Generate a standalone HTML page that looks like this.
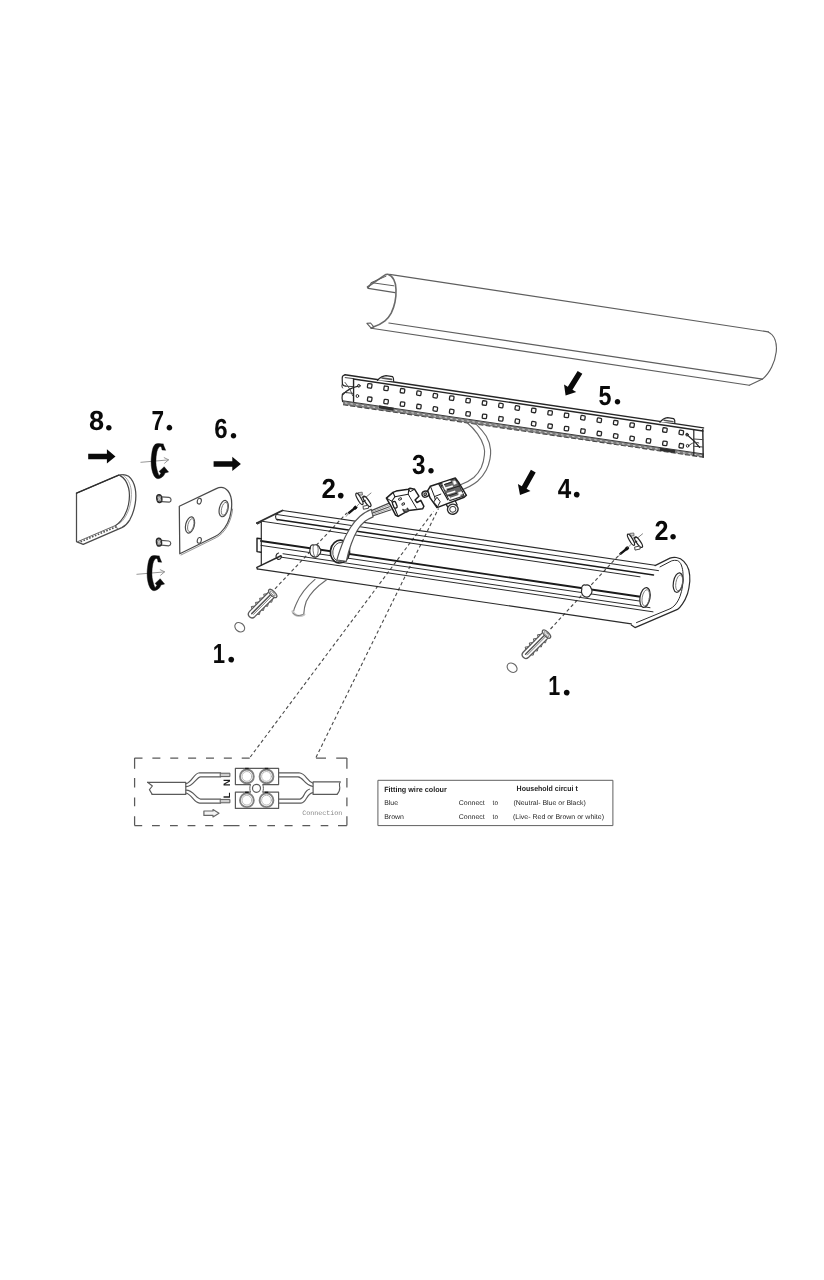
<!DOCTYPE html>
<html lang="en">
<head>
<meta charset="utf-8">
<title>Assembly diagram</title>
<style>
html,body{margin:0;padding:0;background:#fff;}
body{width:824px;height:1280px;overflow:hidden;font-family:"Liberation Sans",sans-serif;}
svg{display:block;position:absolute;left:0;top:0;will-change:transform;}
svg text{text-rendering:geometricPrecision;}
svg line, svg path, svg ellipse, svg polyline, svg rect, svg circle{stroke-linecap:round;stroke-linejoin:round;}
</style>
</head>
<body>
<svg width="824" height="1280" viewBox="0 0 824 1280">
<g id="diffuser">
<line x1="389.50" y1="274.40" x2="768.30" y2="331.90" stroke="#5e5e5e" stroke-width="1.15" />
<path d="M367.5 287 L384 275.6 C385.4 274.6 386.6 274.2 387.8 274.3 C390.4 275 392.4 277 393.8 279.6 C395.4 282.6 396 286 396 289.6 C396.2 294 395.8 298 395 302 C394.2 306 392.8 309.8 391.2 313.2 C389.6 316.2 387.6 318.8 385 320.8 C381.6 323.4 378 325.4 373.8 326.8 L371.2 328.2" stroke="#6a6a6a" stroke-width="1.6" fill="none" />
<path d="M367.5 287 L368.2 288.4 L395 292.6" stroke="#5e5e5e" stroke-width="1.1" fill="none" />
<path d="M368.2 288.4 L371.2 282.6 L393.8 285.8" stroke="#5e5e5e" stroke-width="1.0" fill="none" />
<path d="M371.2 282.6 L386 276.2" stroke="#5e5e5e" stroke-width="1.0" fill="none" />
<path d="M366.9 323.3 L371.2 328.2 M366.9 323.3 L370.6 323 L373.8 326.8" stroke="#5e5e5e" stroke-width="1.1" fill="none" />
<line x1="388.80" y1="323.00" x2="762.50" y2="379.10" stroke="#5e5e5e" stroke-width="1.15" />
<line x1="371.20" y1="328.30" x2="749.30" y2="385.20" stroke="#5e5e5e" stroke-width="1.15" />
<path d="M768.3 331.9 C774.6 335 777.2 343 776.2 352 C775 362 770 373 762.5 379.1 L749.3 385.2" stroke="#5e5e5e" stroke-width="1.15" fill="none" />
</g>
<g id="ledstrip">
<line x1="345.00" y1="374.80" x2="703.50" y2="427.88" stroke="#262626" stroke-width="1.5" />
<line x1="353.50" y1="379.00" x2="703.00" y2="431.01" stroke="#262626" stroke-width="1.3" />
<polygon points="343,401.0 703.5,454.18 703.5,457.28 343,404.8" fill="#7d7d7d"/>
<line x1="343.00" y1="400.80" x2="703.50" y2="453.98" stroke="#3a3a3a" stroke-width="1.0" />
<line x1="343.00" y1="404.80" x2="703.50" y2="457.28" stroke="#4a4a4a" stroke-width="1.1" stroke-dasharray="5 2.2" style="stroke-linecap:butt"/>
<line x1="345.00" y1="402.90" x2="702.00" y2="455.56" stroke="#d8d8d8" stroke-width="0.9" stroke-dasharray="2.4 3.2" style="stroke-linecap:butt"/>
<path d="M345 374.8 C343.2 375 342.2 376.4 342.2 378 L342.4 384 C343 385.6 344.6 386.2 346 386 M342.4 394 C342 396 342 399.6 342.6 401.6" stroke="#262626" stroke-width="1.2" fill="none" />
<path d="M342.4 384 C341.6 385.6 341.8 386.8 342.6 388 M342.6 393.6 C343.6 392.6 345 392.2 346.4 392.6" stroke="#262626" stroke-width="1.0" fill="none" />
<path d="M345.2 377.6 L353.4 378.6 L353.4 386.6 L345.6 386.2 M346.4 392.6 L353.4 393.4 L353.4 401.2" stroke="#444" stroke-width="1.0" fill="none" />
<line x1="353.60" y1="378.80" x2="353.60" y2="401.40" stroke="#262626" stroke-width="1.3" />
<path d="M342.8 394.6 C345.4 391.6 350 388 358.2 386.2" stroke="#262626" stroke-width="1.3" fill="none" />
<path d="M345 382.4 C348 386 351 390.6 352.6 395.6" stroke="#444" stroke-width="0.9" fill="none" />
<ellipse cx="358.80" cy="385.80" rx="1.3" ry="1.4" transform="rotate(0 358.80 385.80)" stroke="#262626" stroke-width="1.0" fill="none"/>
<ellipse cx="357.40" cy="396.00" rx="1.3" ry="1.5" transform="rotate(0 357.40 396.00)" stroke="#262626" stroke-width="1.0" fill="none"/>
<line x1="693.80" y1="429.80" x2="693.80" y2="455.40" stroke="#262626" stroke-width="1.2" />
<line x1="702.80" y1="429.40" x2="703.20" y2="457.20" stroke="#262626" stroke-width="1.4" />
<path d="M693.8 439 L702.8 439.6 M693.8 446.2 L702.8 447" stroke="#444" stroke-width="1.0" fill="none" />
<path d="M686.6 434.6 C690 437.4 694.6 440.6 699.6 447.4" stroke="#262626" stroke-width="1.3" fill="none" />
<path d="M688.6 445.8 C692 442.6 696 441.6 698.8 443" stroke="#444" stroke-width="1.0" fill="none" />
<ellipse cx="687.00" cy="434.60" rx="1.3" ry="1.4" transform="rotate(0 687.00 434.60)" stroke="#262626" stroke-width="1.0" fill="none"/>
<ellipse cx="687.60" cy="445.80" rx="1.3" ry="1.4" transform="rotate(0 687.60 445.80)" stroke="#262626" stroke-width="1.0" fill="none"/>
<path d="M377.5 380.2 C380 377.6 383 375.8 386 375.6 L392.6 376.6 C393.6 377.6 393.8 379.4 393.6 381.2" stroke="#262626" stroke-width="1.3" fill="#fff" />
<path d="M382 378 L391.6 379.4" stroke="#555" stroke-width="1.6" fill="none" />
<path d="M660 422.2 C662 419.6 664.6 418 667.6 417.6 L673.6 418.6 C674.8 419.6 675 421 674.8 422.6" stroke="#262626" stroke-width="1.3" fill="#fff" />
<path d="M664 420.2 L673 421.6" stroke="#555" stroke-width="1.4" fill="none" />
<path d="M379 406.8 L393.6 409.2" stroke="#2e2e2e" stroke-width="3.0" fill="none" style="stroke-linecap:butt"/>
<path d="M660 449.2 L675 451.6" stroke="#2e2e2e" stroke-width="3.0" fill="none" style="stroke-linecap:butt"/>
<rect x="367.55" y="383.75" width="4.3" height="4.3" rx="0.9" transform="rotate(8.5 369.70 385.90)" fill="#fff" stroke="#262626" stroke-width="1.3"/>
<rect x="383.95" y="386.20" width="4.3" height="4.3" rx="0.9" transform="rotate(8.5 386.10 388.35)" fill="#fff" stroke="#262626" stroke-width="1.3"/>
<rect x="400.35" y="388.66" width="4.3" height="4.3" rx="0.9" transform="rotate(8.5 402.50 390.81)" fill="#fff" stroke="#262626" stroke-width="1.3"/>
<rect x="416.75" y="391.11" width="4.3" height="4.3" rx="0.9" transform="rotate(8.5 418.90 393.26)" fill="#fff" stroke="#262626" stroke-width="1.3"/>
<rect x="433.15" y="393.56" width="4.3" height="4.3" rx="0.9" transform="rotate(8.5 435.30 395.71)" fill="#fff" stroke="#262626" stroke-width="1.3"/>
<rect x="449.55" y="396.02" width="4.3" height="4.3" rx="0.9" transform="rotate(8.5 451.70 398.17)" fill="#fff" stroke="#262626" stroke-width="1.3"/>
<rect x="465.95" y="398.47" width="4.3" height="4.3" rx="0.9" transform="rotate(8.5 468.10 400.62)" fill="#fff" stroke="#262626" stroke-width="1.3"/>
<rect x="482.35" y="400.92" width="4.3" height="4.3" rx="0.9" transform="rotate(8.5 484.50 403.07)" fill="#fff" stroke="#262626" stroke-width="1.3"/>
<rect x="498.75" y="403.38" width="4.3" height="4.3" rx="0.9" transform="rotate(8.5 500.90 405.53)" fill="#fff" stroke="#262626" stroke-width="1.3"/>
<rect x="515.15" y="405.83" width="4.3" height="4.3" rx="0.9" transform="rotate(8.5 517.30 407.98)" fill="#fff" stroke="#262626" stroke-width="1.3"/>
<rect x="531.55" y="408.28" width="4.3" height="4.3" rx="0.9" transform="rotate(8.5 533.70 410.43)" fill="#fff" stroke="#262626" stroke-width="1.3"/>
<rect x="547.95" y="410.74" width="4.3" height="4.3" rx="0.9" transform="rotate(8.5 550.10 412.89)" fill="#fff" stroke="#262626" stroke-width="1.3"/>
<rect x="564.35" y="413.19" width="4.3" height="4.3" rx="0.9" transform="rotate(8.5 566.50 415.34)" fill="#fff" stroke="#262626" stroke-width="1.3"/>
<rect x="580.75" y="415.64" width="4.3" height="4.3" rx="0.9" transform="rotate(8.5 582.90 417.79)" fill="#fff" stroke="#262626" stroke-width="1.3"/>
<rect x="597.15" y="418.10" width="4.3" height="4.3" rx="0.9" transform="rotate(8.5 599.30 420.25)" fill="#fff" stroke="#262626" stroke-width="1.3"/>
<rect x="613.55" y="420.55" width="4.3" height="4.3" rx="0.9" transform="rotate(8.5 615.70 422.70)" fill="#fff" stroke="#262626" stroke-width="1.3"/>
<rect x="629.95" y="423.01" width="4.3" height="4.3" rx="0.9" transform="rotate(8.5 632.10 425.16)" fill="#fff" stroke="#262626" stroke-width="1.3"/>
<rect x="646.35" y="425.46" width="4.3" height="4.3" rx="0.9" transform="rotate(8.5 648.50 427.61)" fill="#fff" stroke="#262626" stroke-width="1.3"/>
<rect x="662.75" y="427.91" width="4.3" height="4.3" rx="0.9" transform="rotate(8.5 664.90 430.06)" fill="#fff" stroke="#262626" stroke-width="1.3"/>
<rect x="679.15" y="430.37" width="4.3" height="4.3" rx="0.9" transform="rotate(8.5 681.30 432.52)" fill="#fff" stroke="#262626" stroke-width="1.3"/>
<rect x="367.55" y="397.05" width="4.3" height="4.3" rx="0.9" transform="rotate(8.5 369.70 399.20)" fill="#fff" stroke="#262626" stroke-width="1.3"/>
<rect x="383.95" y="399.50" width="4.3" height="4.3" rx="0.9" transform="rotate(8.5 386.10 401.65)" fill="#fff" stroke="#262626" stroke-width="1.3"/>
<rect x="400.35" y="401.96" width="4.3" height="4.3" rx="0.9" transform="rotate(8.5 402.50 404.11)" fill="#fff" stroke="#262626" stroke-width="1.3"/>
<rect x="416.75" y="404.41" width="4.3" height="4.3" rx="0.9" transform="rotate(8.5 418.90 406.56)" fill="#fff" stroke="#262626" stroke-width="1.3"/>
<rect x="433.15" y="406.86" width="4.3" height="4.3" rx="0.9" transform="rotate(8.5 435.30 409.01)" fill="#fff" stroke="#262626" stroke-width="1.3"/>
<rect x="449.55" y="409.32" width="4.3" height="4.3" rx="0.9" transform="rotate(8.5 451.70 411.47)" fill="#fff" stroke="#262626" stroke-width="1.3"/>
<rect x="465.95" y="411.77" width="4.3" height="4.3" rx="0.9" transform="rotate(8.5 468.10 413.92)" fill="#fff" stroke="#262626" stroke-width="1.3"/>
<rect x="482.35" y="414.22" width="4.3" height="4.3" rx="0.9" transform="rotate(8.5 484.50 416.37)" fill="#fff" stroke="#262626" stroke-width="1.3"/>
<rect x="498.75" y="416.68" width="4.3" height="4.3" rx="0.9" transform="rotate(8.5 500.90 418.83)" fill="#fff" stroke="#262626" stroke-width="1.3"/>
<rect x="515.15" y="419.13" width="4.3" height="4.3" rx="0.9" transform="rotate(8.5 517.30 421.28)" fill="#fff" stroke="#262626" stroke-width="1.3"/>
<rect x="531.55" y="421.58" width="4.3" height="4.3" rx="0.9" transform="rotate(8.5 533.70 423.73)" fill="#fff" stroke="#262626" stroke-width="1.3"/>
<rect x="547.95" y="424.04" width="4.3" height="4.3" rx="0.9" transform="rotate(8.5 550.10 426.19)" fill="#fff" stroke="#262626" stroke-width="1.3"/>
<rect x="564.35" y="426.49" width="4.3" height="4.3" rx="0.9" transform="rotate(8.5 566.50 428.64)" fill="#fff" stroke="#262626" stroke-width="1.3"/>
<rect x="580.75" y="428.94" width="4.3" height="4.3" rx="0.9" transform="rotate(8.5 582.90 431.09)" fill="#fff" stroke="#262626" stroke-width="1.3"/>
<rect x="597.15" y="431.40" width="4.3" height="4.3" rx="0.9" transform="rotate(8.5 599.30 433.55)" fill="#fff" stroke="#262626" stroke-width="1.3"/>
<rect x="613.55" y="433.85" width="4.3" height="4.3" rx="0.9" transform="rotate(8.5 615.70 436.00)" fill="#fff" stroke="#262626" stroke-width="1.3"/>
<rect x="629.95" y="436.31" width="4.3" height="4.3" rx="0.9" transform="rotate(8.5 632.10 438.46)" fill="#fff" stroke="#262626" stroke-width="1.3"/>
<rect x="646.35" y="438.76" width="4.3" height="4.3" rx="0.9" transform="rotate(8.5 648.50 440.91)" fill="#fff" stroke="#262626" stroke-width="1.3"/>
<rect x="662.75" y="441.21" width="4.3" height="4.3" rx="0.9" transform="rotate(8.5 664.90 443.36)" fill="#fff" stroke="#262626" stroke-width="1.3"/>
<rect x="679.15" y="443.67" width="4.3" height="4.3" rx="0.9" transform="rotate(8.5 681.30 445.82)" fill="#fff" stroke="#262626" stroke-width="1.3"/>
</g>
<g id="cable1">
<path d="M466.9 422.5 C471 426 474.6 429.8 477.5 433.8 C480.6 438 482.6 442 483.8 446.3 C484.6 449.2 484.8 452 484.4 455 C484 459.4 483 463.6 481.3 467.5 C479.4 471.4 477 474.6 473.8 477.5 C470 480.6 465.6 483 460 485" stroke="#6a6a6a" stroke-width="1.15" fill="none" />
<path d="M476.3 424.4 C480 428 483.6 432 486.3 436.3 C488.8 440.6 490.2 445.2 490.6 450 C490.8 453 490.6 455.8 490 458.8 C489.2 462.8 488 466.6 486.3 470 C484 474.4 481.2 478 477.5 481.3 C473 485 467.6 487.8 461.3 490" stroke="#6a6a6a" stroke-width="1.15" fill="none" />
</g>
<g id="dashes">
<line x1="275.00" y1="588.80" x2="347.00" y2="512.80" stroke="#4a4a4a" stroke-width="1.15" stroke-dasharray="3.4 2.6" style="stroke-linecap:butt"/>
<line x1="550.50" y1="629.00" x2="621.40" y2="552.40" stroke="#4a4a4a" stroke-width="1.15" stroke-dasharray="3.4 2.6" style="stroke-linecap:butt"/>
<line x1="250.30" y1="757.00" x2="433.50" y2="511.50" stroke="#4a4a4a" stroke-width="1.1" stroke-dasharray="3.4 2.6" style="stroke-linecap:butt"/>
<line x1="316.00" y1="757.40" x2="438.50" y2="508.50" stroke="#4a4a4a" stroke-width="1.1" stroke-dasharray="3.4 2.6" style="stroke-linecap:butt"/>
</g>
<g id="housing">
<line x1="282.50" y1="510.46" x2="655.00" y2="565.22" stroke="#2b2b2b" stroke-width="1.1" />
<line x1="277.00" y1="514.55" x2="658.50" y2="570.63" stroke="#2b2b2b" stroke-width="1.0" />
<line x1="277.00" y1="519.55" x2="653.50" y2="574.90" stroke="#1a1a1a" stroke-width="1.5" />
<line x1="261.30" y1="521.15" x2="640.00" y2="576.82" stroke="#2b2b2b" stroke-width="1.0" />
<line x1="261.00" y1="541.00" x2="640.50" y2="596.79" stroke="#1a1a1a" stroke-width="1.9" />
<line x1="261.00" y1="545.40" x2="640.50" y2="601.19" stroke="#2b2b2b" stroke-width="1.0" />
<line x1="283.00" y1="553.74" x2="650.00" y2="607.68" stroke="#2b2b2b" stroke-width="1.0" />
<line x1="281.00" y1="557.14" x2="653.00" y2="611.83" stroke="#2b2b2b" stroke-width="1.0" />
<line x1="256.90" y1="568.80" x2="631.30" y2="623.84" stroke="#2b2b2b" stroke-width="1.2" />
<path d="M257 523 L282.5 510.5" stroke="#2f2f2f" stroke-width="1.9" fill="none" />
<path d="M256.9 522.6 L257.4 524.2 L261.3 522" stroke="#2b2b2b" stroke-width="1" fill="none" />
<path d="M261.3 522 L261.3 565.4" stroke="#2b2b2b" stroke-width="1.2" fill="none" />
<path d="M257 538.2 L261 538.8 M257 538.2 L257 551.6 L261 552.2" stroke="#1f1f1f" stroke-width="1.4" fill="none" />
<path d="M256.9 567.4 L281 555.8" stroke="#2a2a2a" stroke-width="1.5" fill="none" />
<path d="M256.9 567.6 L257.6 569.2" stroke="#2b2b2b" stroke-width="1" fill="none" />
<path d="M277.5 513.4 C275 514.6 274.8 518.6 277.4 520" stroke="#2b2b2b" stroke-width="1.1" fill="none" />
<path d="M278.5 553 C275.5 554 275 558 278 559.4 C280 559.8 281.5 558 281.5 556.6" stroke="#2b2b2b" stroke-width="1.2" fill="none" />
<ellipse cx="340.00" cy="551.60" rx="9.6" ry="11.4" transform="rotate(8 340.00 551.60)" stroke="#222" stroke-width="1.7" fill="#fff"/>
<ellipse cx="340.40" cy="552.00" rx="7.6" ry="9.6" transform="rotate(8 340.40 552.00)" stroke="#444" stroke-width="0.9" fill="none"/>
<path d="M310.3 548.2 C310 545.6 311.8 544.4 314 545 C316.6 544.2 319 545.6 319.6 548 C321.4 549.6 321.2 553.4 319 554.8 C317.8 557.6 314 557.8 312.2 556 C309.8 554.8 309.2 550.6 310.3 548.2 Z" stroke="#2b2b2b" stroke-width="1.2" fill="#fff" />
<path d="M313.4 545.2 C312.6 548.6 313 553 314.6 556.6 M317.6 546 C318.6 549 318.4 552.6 317 555.4" stroke="#555" stroke-width="0.8" fill="none" />
<g transform="translate(-6.4 -0.9)">
<path d="M588.2 590.2 C587.5 587.2 589.5 585.4 592 586 C594.5 585.2 597 586.6 597.5 589.2 C599 591 598.6 594.4 596.6 595.8 C595.4 598.4 591.8 598.6 590 596.8 C588 595.6 587.4 592.4 588.2 590.2 Z" stroke="#2b2b2b" stroke-width="1.2" fill="#fff" />
</g>
<ellipse cx="645.00" cy="597.50" rx="5.0" ry="10" transform="rotate(10 645.00 597.50)" stroke="#2b2b2b" stroke-width="1.2" fill="#fff"/>
<ellipse cx="645.80" cy="597.80" rx="3.6" ry="8.2" transform="rotate(10 645.80 597.80)" stroke="#666" stroke-width="0.8" fill="none"/>
<path d="M655 565.6 L670 558.1 C672.5 557.2 674.5 557.2 676.3 557.5 C679.5 558 682 559.4 683.8 561.3 C686.6 564.2 688 567 688.8 570 C689.8 574 690 577.5 689.8 581.3 C689.4 586 688.6 590 687.5 593.8 C686.2 597.6 684.6 601 682.5 603.8 C681 606 679.4 608 677.5 609.4 L635 627.6 L631.3 625" stroke="#2b2b2b" stroke-width="1.2" fill="none" />
<path d="M660 566.9 L671.3 561 C673.5 560.2 675.5 560.2 677.5 560.6 C679.4 561.6 680.6 563 681.3 565 C682.4 568 682.9 570.6 683 573.8 C683.2 578 683 582 682.5 586.3 C682 590 681.2 593 680 596.3 C678.8 599.6 677.2 602.4 675 605 C673.6 606.6 672 607.8 670 608.8 L636.5 622.6" stroke="#2b2b2b" stroke-width="1.0" fill="none" />
<ellipse cx="678.10" cy="582.60" rx="4.7" ry="9.8" transform="rotate(10 678.10 582.60)" stroke="#2b2b2b" stroke-width="1.2" fill="#fff"/>
<ellipse cx="679.20" cy="582.90" rx="3.3" ry="8.0" transform="rotate(10 679.20 582.90)" stroke="#666" stroke-width="0.8" fill="none"/>
</g>
<g id="cable2">
<path d="M371.3 509.4 C366 511.6 362.5 514 360 516.3 C356 520 353.5 523 351.3 526.3 C348 531.5 345.5 536 343.8 540 C341 547 338.6 553.6 336.9 560 L346.3 561.3 C347.6 555 349.2 549.4 351.3 543.8 C353 539 355 534.4 357.5 530 C359.8 526.4 362.2 523.6 365 521.3 C367.6 519.4 370.4 518 373.1 516.9 Z" stroke="#555" stroke-width="1.2" fill="#fff" />
<path d="M315 579.4 C306 587 299.5 596 296.3 603.8 C294.6 607.4 293.6 610.4 293.1 613.1" stroke="#6a6a6a" stroke-width="1.15" fill="none" />
<path d="M326.3 580 C317 586.4 310 593.6 306.3 601.3 C304.8 605.4 304 609.6 303.8 613.8" stroke="#6a6a6a" stroke-width="1.15" fill="none" />
<path d="M292.6 611.4 C294 615.6 299.6 617.4 304.2 614.4" stroke="#c4c4c4" stroke-width="2.4" fill="none" />
<path d="M293.1 613.1 C295 616 300 616.6 303.8 613.8" stroke="#777" stroke-width="0.9" fill="none" />
</g>
<g id="connectors">
<path d="M372 510.4 L388.6 503.4 M372.6 513 L389.4 506.8 M373.2 515.8 L391 509.8" stroke="#4a4a4a" stroke-width="1.2" fill="none" />
<path d="M372.4 511.8 L388.8 505 M373 514.4 L390 508.4" stroke="#9a9a9a" stroke-width="0.9" fill="none" />
<path d="M386.4 498.1 L393.0 492.4 L396.2 491.1 L408.2 489.2 L410.1 488.3 L414.5 489.2 L418.9 496.2 L415.1 500.0 L417.0 502.5 L420.8 500.3 L423.9 506.3 L422.7 508.8 L408.8 510.4 L398.1 516.4 L395.6 515.1 L391.1 506.3 Z" stroke="#1f1f1f" stroke-width="1.5" fill="#fff" />
<path d="M393.0 492.4 L394.9 496.8 L408.2 494.3 L408.8 489.6" stroke="#1f1f1f" stroke-width="1.1" fill="none" />
<path d="M408.2 494.3 L416.4 508.2" stroke="#1f1f1f" stroke-width="1.0" fill="none" />
<path d="M394.9 496.8 L391.8 501.2 L398.1 516.4" stroke="#1f1f1f" stroke-width="1.1" fill="none" />
<path d="M386.4 498.1 L391.8 501.2" stroke="#1f1f1f" stroke-width="1.0" fill="none" />
<path d="M414.5 489.2 L410.1 491.8 L408.8 489.6" stroke="#1f1f1f" stroke-width="1.0" fill="none" />
<rect x="-1.7" y="-3.4" width="3.4" height="6.8" rx="1.5" transform="translate(394.8 504.8) rotate(-22)" fill="#fff" stroke="#1f1f1f" stroke-width="1.3"/>
<ellipse cx="400.00" cy="499.00" rx="1.6" ry="1.0" transform="rotate(-25 400.00 499.00)" stroke="#1f1f1f" stroke-width="0.9" fill="none"/>
<ellipse cx="403.20" cy="504.00" rx="1.4" ry="1.0" transform="rotate(-25 403.20 504.00)" stroke="#1f1f1f" stroke-width="1.0" fill="none"/>
<path d="M403 509.4 C404 512.6 407 512.8 408.6 510.6 L407.4 508.4" stroke="#333" stroke-width="1.5" fill="#777" />
<path d="M430.4 486.2 L455.3 478.0 L458.5 482.1 L466.4 495.3 L464.2 497.2 L437.0 507.6 L430.1 497.9 L427.6 490.9 Z" stroke="#1f1f1f" stroke-width="1.5" fill="#fff" />
<path d="M440.2 483.7 L454.7 478.6 L457.9 482.4 L464.2 496.0 L449.7 500.7 L445.2 492.8 Z" stroke="#1f1f1f" stroke-width="0.9" fill="#676767" />
<path d="M444.6 488.5 L452.8 486 M447.1 493.8 L455.3 491.2 M450.6 498.6 L460.4 495.4 M442.6 483.6 L450.6 481" stroke="#fff" stroke-width="1.7" fill="none" style="stroke-linecap:butt"/>
<path d="M441.2 485.6 L457 480.4 M444 491 L460 485.8 M447 496.4 L463 491.2" stroke="#1f1f1f" stroke-width="1.0" fill="none" style="stroke-linecap:butt"/>
<path d="M452.9 481.4 L455.2 480.7 L456.4 483.6 L454.2 484.4 Z M458 492.6 L461.4 491.4 L462.6 493.8 L459.2 495 Z" stroke="#fff" stroke-width="0.5" fill="#fff" />
<path d="M443 484 L446.4 490.6 M448.4 496.4 L450.4 499.6 M441.8 488 L444 492.4" stroke="#fff" stroke-width="1.4" fill="none" style="stroke-linecap:butt"/>
<path d="M438.9 484.3 L447.8 499.8" stroke="#1f1f1f" stroke-width="1.3" fill="none" />
<path d="M430.4 486.2 L434.5 496.6 L437.0 507.6" stroke="#1f1f1f" stroke-width="1.0" fill="none" />
<path d="M434.5 496.6 L440.8 494.1" stroke="#1f1f1f" stroke-width="1.0" fill="none" />
<path d="M433.9 501.7 L437.0 497.2 L440.2 501.7 L437.7 506.4 Z" stroke="#1f1f1f" stroke-width="1.0" fill="#fff" />
<ellipse cx="425.40" cy="494.10" rx="3.4" ry="3.0" transform="rotate(-20 425.40 494.10)" stroke="#1f1f1f" stroke-width="1.4" fill="#fff"/>
<ellipse cx="425.30" cy="494.20" rx="1.5" ry="1.3" transform="rotate(-20 425.30 494.20)" stroke="#333" stroke-width="1.0" fill="#999"/>
<path d="M446.4 504.6 L448 507.6 M455.6 501.4 L457.2 505" stroke="#1f1f1f" stroke-width="1.2" fill="none" />
<ellipse cx="452.80" cy="509.20" rx="5.3" ry="5.0" transform="rotate(-15 452.80 509.20)" stroke="#2a2a2a" stroke-width="1.4" fill="#fff"/>
<ellipse cx="452.80" cy="509.30" rx="3.0" ry="2.8" transform="rotate(-15 452.80 509.30)" stroke="#444" stroke-width="1.0" fill="none"/>
</g>
<g id="clips">
<line x1="365.40" y1="497.60" x2="371.00" y2="493.00" stroke="#777" stroke-width="0.9" />
<path d="M358.4 492.6 L362.2 492.2 L362.4 495.0 L359.4 495.2 Z" stroke="#666" stroke-width="0.9" fill="#ccc" />
<ellipse cx="359.40" cy="498.90" rx="1.7" ry="6.4" transform="rotate(-30 359.40 498.90)" stroke="#262626" stroke-width="1.3" fill="#fff"/>
<ellipse cx="367.00" cy="501.40" rx="1.9" ry="6.2" transform="rotate(-35 367.00 501.40)" stroke="#262626" stroke-width="1.3" fill="#fff"/>
<path d="M362.0 497.2 L365.0 496.6 M363.4 501.4 L365.2 500.4" stroke="#262626" stroke-width="1.1" fill="none" />
<path d="M363.4 506.2 L368.2 505.2 L368.6 508.2 L363.8 509.2 Z" stroke="#444" stroke-width="1.0" fill="#fff" />
<path d="M348.8 513.0 L356.0 507.2" stroke="#111" stroke-width="2.3" fill="none" style="stroke-linecap:round"/>
<ellipse cx="355.40" cy="507.60" rx="1.7" ry="1.5" transform="rotate(-40 355.40 507.60)" stroke="#111" stroke-width="0.8" fill="#111"/>
<path d="M346.2 516.4 L348.8 513.0 M356.4 506.6 L359.4 503.6" stroke="#8a8a8a" stroke-width="0.9" fill="none" />
<line x1="637.00" y1="538.40" x2="642.60" y2="533.80" stroke="#777" stroke-width="0.9" />
<path d="M630.0 533.4 L633.8 533.0 L634.0 535.8 L631.0 536.0 Z" stroke="#666" stroke-width="0.9" fill="#ccc" />
<ellipse cx="631.00" cy="539.70" rx="1.7" ry="6.4" transform="rotate(-30 631.00 539.70)" stroke="#262626" stroke-width="1.3" fill="#fff"/>
<ellipse cx="638.60" cy="542.20" rx="1.9" ry="6.2" transform="rotate(-35 638.60 542.20)" stroke="#262626" stroke-width="1.3" fill="#fff"/>
<path d="M633.6 538.0 L636.6 537.4 M635.0 542.2 L636.8 541.2" stroke="#262626" stroke-width="1.1" fill="none" />
<path d="M635.0 547.0 L639.8 546.0 L640.2 549.0 L635.4 550.0 Z" stroke="#444" stroke-width="1.0" fill="#fff" />
<path d="M620.4 553.8 L627.6 548.0" stroke="#111" stroke-width="2.3" fill="none" style="stroke-linecap:round"/>
<ellipse cx="627.00" cy="548.40" rx="1.7" ry="1.5" transform="rotate(-40 627.00 548.40)" stroke="#111" stroke-width="0.8" fill="#111"/>
<path d="M617.8 557.2 L620.4 553.8 M628.0 547.4 L631.0 544.4" stroke="#8a8a8a" stroke-width="0.9" fill="none" />
</g>
<g id="plugs">
<path d="M268.94 591.74 L249.55 611.41 C246.09 615.15 251.05 620.11 254.79 616.65 L274.46 597.26" stroke="#5a5a5a" stroke-width="1.3" fill="#fff" />
<path d="M251.75 613.61 L270.76 594.59" stroke="#555" stroke-width="1.5" fill="none" />
<path d="M253.53 614.36 L272.04 595.86" stroke="#777" stroke-width="0.9" fill="none" />
<path d="M254.55 606.13 L251.34 606.52 L251.98 608.70" stroke="#5a5a5a" stroke-width="1.0" fill="none" />
<path d="M260.07 611.65 L259.40 614.58 L257.50 614.22" stroke="#5a5a5a" stroke-width="1.0" fill="none" />
<path d="M258.66 602.02 L255.45 602.41 L256.09 604.59" stroke="#5a5a5a" stroke-width="1.0" fill="none" />
<path d="M264.18 607.54 L263.51 610.47 L261.61 610.11" stroke="#5a5a5a" stroke-width="1.0" fill="none" />
<path d="M262.78 597.91 L259.56 598.29 L260.21 600.48" stroke="#5a5a5a" stroke-width="1.0" fill="none" />
<path d="M268.29 603.42 L267.62 606.35 L265.72 605.99" stroke="#5a5a5a" stroke-width="1.0" fill="none" />
<path d="M266.89 593.80 L263.68 594.18 L264.32 596.37" stroke="#5a5a5a" stroke-width="1.0" fill="none" />
<path d="M272.40 599.31 L271.74 602.24 L269.83 601.88" stroke="#5a5a5a" stroke-width="1.0" fill="none" />
<ellipse cx="272.73" cy="593.47" rx="2.3" ry="5.3" transform="rotate(-45.00000000000003 272.73 593.47)" stroke="#5a5a5a" stroke-width="1.3" fill="#fff"/>
<ellipse cx="272.73" cy="593.47" rx="1.0" ry="3.4" transform="rotate(-45.00000000000003 272.73 593.47)" stroke="#777" stroke-width="0.8" fill="none"/>
<ellipse cx="239.75" cy="627.25" rx="4.2" ry="5.4" transform="rotate(-50 239.75 627.25)" stroke="#666" stroke-width="1.1" fill="none"/>
<path d="M542.74 632.34 L523.35 652.01 C519.89 655.75 524.85 660.71 528.59 657.25 L548.26 637.86" stroke="#5a5a5a" stroke-width="1.3" fill="#fff" />
<path d="M525.55 654.21 L544.56 635.19" stroke="#555" stroke-width="1.5" fill="none" />
<path d="M527.33 654.96 L545.84 636.46" stroke="#777" stroke-width="0.9" fill="none" />
<path d="M528.35 646.73 L525.14 647.12 L525.78 649.30" stroke="#5a5a5a" stroke-width="1.0" fill="none" />
<path d="M533.87 652.25 L533.20 655.18 L531.30 654.82" stroke="#5a5a5a" stroke-width="1.0" fill="none" />
<path d="M532.46 642.62 L529.25 643.01 L529.89 645.19" stroke="#5a5a5a" stroke-width="1.0" fill="none" />
<path d="M537.98 648.14 L537.31 651.07 L535.41 650.71" stroke="#5a5a5a" stroke-width="1.0" fill="none" />
<path d="M536.58 638.51 L533.36 638.89 L534.01 641.08" stroke="#5a5a5a" stroke-width="1.0" fill="none" />
<path d="M542.09 644.02 L541.42 646.95 L539.52 646.59" stroke="#5a5a5a" stroke-width="1.0" fill="none" />
<path d="M540.69 634.40 L537.48 634.78 L538.12 636.97" stroke="#5a5a5a" stroke-width="1.0" fill="none" />
<path d="M546.20 639.91 L545.54 642.84 L543.63 642.48" stroke="#5a5a5a" stroke-width="1.0" fill="none" />
<ellipse cx="546.53" cy="634.07" rx="2.3" ry="5.3" transform="rotate(-45.0 546.53 634.07)" stroke="#5a5a5a" stroke-width="1.3" fill="#fff"/>
<ellipse cx="546.53" cy="634.07" rx="1.0" ry="3.4" transform="rotate(-45.0 546.53 634.07)" stroke="#777" stroke-width="0.8" fill="none"/>
<ellipse cx="512.10" cy="667.70" rx="4.2" ry="5.4" transform="rotate(-50 512.10 667.70)" stroke="#666" stroke-width="1.1" fill="none"/>
</g>
<g id="cover">
<path d="M76.5 493.2 L118.6 475.2 C122 474.2 126 474.6 128.6 476.2 C132 479 134.2 483.4 135.2 488.6 C136.2 493.6 136 498.6 135.2 503.6 C134.2 509.6 132.4 515.2 129.8 519.8 C127.6 523.4 125 526 121.8 527.6 L83.2 544.4 L77.6 542.2 L76.5 541.6 Z" stroke="#4a4a4a" stroke-width="1.25" fill="#fff" />
<path d="M76.5 493.2 L118.6 475.2" stroke="#2e2e2e" stroke-width="1.3" fill="none" />
<path d="M119.8 475.4 C124 477.6 127 482 128.6 488 C129.8 493 129.6 498.6 128.6 504 C127.4 510 125 516 121 520.6 C119.4 522.6 117.6 524.2 115.6 525.4" stroke="#444" stroke-width="1.2" fill="none" />
<path d="M123 475.2 C127.6 478.2 130.4 483.6 131.2 490 C131.8 496 131 502 129.4 507.6 C127.6 513.6 124.6 519.4 119.6 523.6" stroke="#999" stroke-width="0.9" fill="none" />
<path d="M77.8 541.6 L115.6 525.4 L117.6 529.2" stroke="#555" stroke-width="0.9" fill="none" />
<path d="M80.6 541.8 L116 526.8" stroke="#555" stroke-width="1.7" fill="none" stroke-dasharray="1.6 1.5" style="stroke-linecap:butt"/>
</g>
<g id="plate">
<path d="M179.3 506.3 L216.3 488.6 C220.5 486.6 225 487.4 228 491 C231.4 495.2 232.2 502 231.4 509 C230.4 518 226.5 527 220.6 532.6 C219 534.2 217.5 535.2 215.5 536.2 L179.8 553.8 Z" stroke="#4a4a4a" stroke-width="1.25" fill="#fff" />
<path d="M181 555 L216.6 537.4 C225 533 231.6 521 232.6 509" stroke="#777" stroke-width="0.8" fill="none" />
<ellipse cx="190.00" cy="525.00" rx="4.3" ry="8.3" transform="rotate(14 190.00 525.00)" stroke="#4a4a4a" stroke-width="1.2" fill="none"/>
<ellipse cx="190.80" cy="525.20" rx="2.9" ry="6.6" transform="rotate(14 190.80 525.20)" stroke="#777" stroke-width="0.9" fill="none"/>
<ellipse cx="223.70" cy="508.60" rx="4.3" ry="8.3" transform="rotate(14 223.70 508.60)" stroke="#4a4a4a" stroke-width="1.2" fill="none"/>
<ellipse cx="224.50" cy="508.80" rx="2.9" ry="6.6" transform="rotate(14 224.50 508.80)" stroke="#777" stroke-width="0.9" fill="none"/>
<ellipse cx="199.30" cy="501.20" rx="2.0" ry="2.9" transform="rotate(14 199.30 501.20)" stroke="#4a4a4a" stroke-width="1.1" fill="none"/>
<ellipse cx="199.30" cy="540.40" rx="2.0" ry="2.9" transform="rotate(14 199.30 540.40)" stroke="#4a4a4a" stroke-width="1.1" fill="none"/>
</g>
<g id="screws">
<path d="M161.6 496.8 L169.0 497.4 C171.6 498.0 171.8 501.4 169.2 502.2 L161.6 501.6" stroke="#555" stroke-width="1.2" fill="#fff" />
<ellipse cx="159.30" cy="498.60" rx="2.5" ry="3.9" transform="rotate(-8 159.30 498.60)" stroke="#2a2a2a" stroke-width="1.5" fill="#8f8f8f"/>
<path d="M158.0 497.2 L160.6 500.2 M160.4 496.8 L158.2 500.4" stroke="#ddd" stroke-width="0.8" fill="none" />
<path d="M161.3 540.4 L168.7 541.0 C171.3 541.6 171.5 545.0 168.9 545.8 L161.3 545.2" stroke="#555" stroke-width="1.2" fill="#fff" />
<ellipse cx="159.00" cy="542.20" rx="2.5" ry="3.9" transform="rotate(-8 159.00 542.20)" stroke="#2a2a2a" stroke-width="1.5" fill="#8f8f8f"/>
<path d="M157.7 540.8 L160.3 543.8 M160.1 540.4 L157.9 544.0" stroke="#ddd" stroke-width="0.8" fill="none" />
</g>
<g id="rot">
<g transform="translate(0 0)">
<line x1="140.90" y1="462.30" x2="168.40" y2="459.90" stroke="#8a8a8a" stroke-width="0.9" />
<path d="M164.2 457.7 L168.6 459.8 L164.6 463.2" stroke="#8a8a8a" stroke-width="0.9" fill="none" />
<path d="M163.1 444.1 L165.7 450.3 L162 449.9 C161.8 448.4 161.6 447.2 161 446.7 C160.4 446.3 159.7 446.4 159.1 447 C158.1 448.2 157.4 449.8 156.9 451.8 C156.2 455 155.9 458.4 155.9 461.9 C155.9 464.6 156.3 467 156.9 469.2 C157.4 471.6 158.2 473.8 159.1 475.8 L160.9 473.3 L159.1 471.4 L164.2 466.7 L168.6 472.1 L165 472.9 C164.6 474 164.2 474.9 163.5 475.8 C162.6 476.9 161.8 477.6 160.6 478 C159.4 478.6 158.2 478.8 156.9 478.6 C155.7 478 154.8 477.1 154 475.8 C152.9 473.8 152.3 471.6 151.8 469.2 C151.3 466.8 151.1 464.4 151.1 461.9 C151.1 459.6 151.2 457.5 151.5 455.4 C151.8 452.8 152.2 450.4 152.9 448.1 C153.6 446.3 154.4 445 155.5 444.1 C156.6 443.5 157.8 443.4 159.1 443.6 C160.5 443.7 161.8 443.8 163.1 444.1 Z" fill="#0a0a0a" stroke="#0a0a0a" stroke-width="0.4"/>
</g>
<g transform="translate(-4 112)">
<line x1="140.90" y1="462.30" x2="168.40" y2="459.90" stroke="#8a8a8a" stroke-width="0.9" />
<path d="M164.2 457.7 L168.6 459.8 L164.6 463.2" stroke="#8a8a8a" stroke-width="0.9" fill="none" />
<path d="M163.1 444.1 L165.7 450.3 L162 449.9 C161.8 448.4 161.6 447.2 161 446.7 C160.4 446.3 159.7 446.4 159.1 447 C158.1 448.2 157.4 449.8 156.9 451.8 C156.2 455 155.9 458.4 155.9 461.9 C155.9 464.6 156.3 467 156.9 469.2 C157.4 471.6 158.2 473.8 159.1 475.8 L160.9 473.3 L159.1 471.4 L164.2 466.7 L168.6 472.1 L165 472.9 C164.6 474 164.2 474.9 163.5 475.8 C162.6 476.9 161.8 477.6 160.6 478 C159.4 478.6 158.2 478.8 156.9 478.6 C155.7 478 154.8 477.1 154 475.8 C152.9 473.8 152.3 471.6 151.8 469.2 C151.3 466.8 151.1 464.4 151.1 461.9 C151.1 459.6 151.2 457.5 151.5 455.4 C151.8 452.8 152.2 450.4 152.9 448.1 C153.6 446.3 154.4 445 155.5 444.1 C156.6 443.5 157.8 443.4 159.1 443.6 C160.5 443.7 161.8 443.8 163.1 444.1 Z" fill="#0a0a0a" stroke="#0a0a0a" stroke-width="0.4"/>
</g>
</g>
<g id="arrows">
<polygon points="88.20,459.15 106.90,459.15 106.90,463.60 115.50,456.40 106.90,449.20 106.90,453.65 88.20,453.65" fill="#0a0a0a"/>
<polygon points="213.60,466.65 232.30,466.65 232.30,471.10 240.90,463.90 232.30,456.70 232.30,461.15 213.60,461.15" fill="#0a0a0a"/>
<polygon points="577.66,370.95 567.80,386.84 564.02,384.50 565.60,395.60 576.25,392.09 572.47,389.74 582.34,373.85" fill="#0a0a0a"/>
<polygon points="530.90,469.86 521.79,486.15 517.91,483.98 520.00,495.00 530.48,491.00 526.60,488.83 535.70,472.54" fill="#0a0a0a"/>
</g>
<g id="numbers">
<text y="430.10" font-family="'Liberation Sans', sans-serif" font-weight="bold" font-size="27.5" fill="#0a0a0a"><tspan x="89.03" textLength="15.11" lengthAdjust="spacingAndGlyphs">8</tspan><tspan x="104.43" dy="-0.4" font-family="'Liberation Serif', serif" font-size="34.6">.</tspan></text>
<text y="430.10" font-family="'Liberation Sans', sans-serif" font-weight="bold" font-size="27.5" fill="#0a0a0a"><tspan x="151.43" textLength="12.57" lengthAdjust="spacingAndGlyphs">7</tspan><tspan x="165.10" dy="-0.4" font-family="'Liberation Serif', serif" font-size="35.2">.</tspan></text>
<text y="438.00" font-family="'Liberation Sans', sans-serif" font-weight="bold" font-size="27.5" fill="#0a0a0a"><tspan x="214.31" textLength="13.35" lengthAdjust="spacingAndGlyphs">6</tspan><tspan x="229.16" dy="-0.4" font-family="'Liberation Serif', serif" font-size="34.0">.</tspan></text>
<text y="404.50" font-family="'Liberation Sans', sans-serif" font-weight="bold" font-size="27.5" fill="#0a0a0a"><tspan x="598.48" textLength="12.98" lengthAdjust="spacingAndGlyphs">5</tspan><tspan x="613.26" dy="-0.4" font-family="'Liberation Serif', serif" font-size="34.0">.</tspan></text>
<text y="497.60" font-family="'Liberation Sans', sans-serif" font-weight="bold" font-size="27.5" fill="#0a0a0a"><tspan x="557.64" textLength="13.49" lengthAdjust="spacingAndGlyphs">4</tspan><tspan x="572.27" dy="-0.4" font-family="'Liberation Serif', serif" font-size="35.8">.</tspan></text>
<text y="473.50" font-family="'Liberation Sans', sans-serif" font-weight="bold" font-size="27.5" fill="#0a0a0a"><tspan x="412.04" textLength="13.54" lengthAdjust="spacingAndGlyphs">3</tspan><tspan x="426.86" dy="-0.4" font-family="'Liberation Serif', serif" font-size="34.0">.</tspan></text>
<text y="498.40" font-family="'Liberation Sans', sans-serif" font-weight="bold" font-size="27.5" fill="#0a0a0a"><tspan x="321.59" textLength="14.45" lengthAdjust="spacingAndGlyphs">2</tspan><tspan x="336.17" dy="-0.4" font-family="'Liberation Serif', serif" font-size="35.8">.</tspan></text>
<text y="539.50" font-family="'Liberation Sans', sans-serif" font-weight="bold" font-size="27.5" fill="#0a0a0a"><tspan x="654.62" textLength="13.99" lengthAdjust="spacingAndGlyphs">2</tspan><tspan x="668.83" dy="-0.4" font-family="'Liberation Serif', serif" font-size="34.6">.</tspan></text>
<text y="662.60" font-family="'Liberation Sans', sans-serif" font-weight="bold" font-size="27.5" fill="#0a0a0a"><tspan x="212.80" textLength="12.32" lengthAdjust="spacingAndGlyphs">1</tspan><tspan x="226.87" dy="-0.4" font-family="'Liberation Serif', serif" font-size="35.8">.</tspan></text>
<text y="695.10" font-family="'Liberation Sans', sans-serif" font-weight="bold" font-size="27.5" fill="#0a0a0a"><tspan x="548.15" textLength="11.96" lengthAdjust="spacingAndGlyphs">1</tspan><tspan x="562.27" dy="-0.4" font-family="'Liberation Serif', serif" font-size="35.8">.</tspan></text>
</g>
<g id="inset">
<path d="M134.50 758.1 L142.50 758.1 M152.37 758.1 L160.37 758.1 M170.24 758.1 L178.24 758.1 M188.11 758.1 L196.11 758.1 M205.98 758.1 L213.98 758.1 M223.85 758.1 L231.85 758.1 M241.72 758.1 L249.72 758.1 M316.10 758.1 L326.00 758.1 M336.20 758.1 L346.90 758.1" stroke="#5a5a5a" stroke-width="1.25" fill="none" style="stroke-linecap:butt"/>
<path d="M134.50 825.5 L142.20 825.5 M152.00 825.5 L159.80 825.5 M170.00 825.5 L177.80 825.5 M187.60 825.5 L195.40 825.5 M205.20 825.5 L213.20 825.5 M223.50 825.5 L239.50 825.5 M249.00 825.5 L256.60 825.5 M267.40 825.5 L275.00 825.5 M284.60 825.5 L292.60 825.5 M302.40 825.5 L310.20 825.5 M320.70 825.5 L328.30 825.5 M338.00 825.5 L346.90 825.5" stroke="#5a5a5a" stroke-width="1.25" fill="none" style="stroke-linecap:butt"/>
<path d="M134.6 758.10 L134.6 768.80 M134.6 778.10 L134.6 787.50 M134.6 797.60 L134.6 806.20 M134.6 816.20 L134.6 825.50" stroke="#5a5a5a" stroke-width="1.25" fill="none" style="stroke-linecap:butt"/>
<path d="M346.9 758.10 L346.9 768.80 M346.9 778.10 L346.9 787.50 M346.9 797.60 L346.9 806.20 M346.9 816.20 L346.9 825.50" stroke="#5a5a5a" stroke-width="1.25" fill="none" style="stroke-linecap:butt"/>
<path d="M147.6 782.3 L185.8 782.3 L185.8 794.4 L152.2 794.4" stroke="#5a5a5a" stroke-width="1.2" fill="#fff" />
<path d="M147.6 782.3 L152.4 786 L149.4 789.6 L152.2 794.4" stroke="#5a5a5a" stroke-width="1.1" fill="none" />
<path d="M185.8 783.8 C192 782.6 193.6 773 199.6 772.8 L220.6 772.8 M186 786.6 C193 786.8 196.4 777.2 200.6 776.9 L220.6 776.9" stroke="#5a5a5a" stroke-width="1.15" fill="none" />
<path d="M185.8 793 C192 794.2 193.6 802.9 199.6 803.1 L220.6 803.1 M186 790.2 C193 790 196.4 798.9 200.6 799.1 L220.6 799.1" stroke="#5a5a5a" stroke-width="1.15" fill="none" />
<rect x="220.6" y="773.2" width="9.3" height="3.4" fill="#d0d0d0" stroke="#5a5a5a" stroke-width="1"/>
<rect x="220.6" y="799.4" width="9.3" height="3.4" fill="#d0d0d0" stroke="#5a5a5a" stroke-width="1"/>
<text transform="translate(229.9 786.1) rotate(-90)" font-family="'Liberation Sans', sans-serif" font-weight="bold" font-size="9.4" fill="#1c1c1c">N</text>
<text transform="translate(229.9 798.3) rotate(-90)" font-family="'Liberation Sans', sans-serif" font-weight="bold" font-size="9.4" fill="#1c1c1c">L</text>
<rect x="235.4" y="768.3" width="43.2" height="16.3" fill="#fff" stroke="#5a5a5a" stroke-width="1.2"/>
<rect x="235.4" y="792.1" width="43.2" height="16.3" fill="#fff" stroke="#5a5a5a" stroke-width="1.2"/>
<rect x="250.4" y="783.6" width="12.4" height="9.4" fill="#fff" stroke="none"/>
<path d="M250.4 784.6 C249.6 787 249.6 789.6 250.4 792.1 M262.8 784.6 C263.6 787 263.6 789.6 262.8 792.1" stroke="#5a5a5a" stroke-width="1.0" fill="none" />
<circle cx="246.9" cy="776.4" r="6.9" fill="#fff" stroke="#808080" stroke-width="1.9"/>
<circle cx="246.9" cy="776.4" r="4.9" fill="none" stroke="#a8a8a8" stroke-width="0.8"/>
<path d="M245.1 768.5 L248.70000000000002 768.5" stroke="#1a1a1a" stroke-width="1.4" fill="none" style="stroke-linecap:butt"/>
<circle cx="266.5" cy="776.4" r="6.9" fill="#fff" stroke="#808080" stroke-width="1.9"/>
<circle cx="266.5" cy="776.4" r="4.9" fill="none" stroke="#a8a8a8" stroke-width="0.8"/>
<path d="M264.7 768.5 L268.3 768.5" stroke="#1a1a1a" stroke-width="1.4" fill="none" style="stroke-linecap:butt"/>
<circle cx="246.9" cy="800.2" r="6.9" fill="#fff" stroke="#808080" stroke-width="1.9"/>
<circle cx="246.9" cy="800.2" r="4.9" fill="none" stroke="#a8a8a8" stroke-width="0.8"/>
<path d="M245.1 792.3000000000001 L248.70000000000002 792.3000000000001" stroke="#1a1a1a" stroke-width="1.4" fill="none" style="stroke-linecap:butt"/>
<circle cx="266.5" cy="800.2" r="6.9" fill="#fff" stroke="#808080" stroke-width="1.9"/>
<circle cx="266.5" cy="800.2" r="4.9" fill="none" stroke="#a8a8a8" stroke-width="0.8"/>
<path d="M264.7 792.3000000000001 L268.3 792.3000000000001" stroke="#1a1a1a" stroke-width="1.4" fill="none" style="stroke-linecap:butt"/>
<circle cx="256.5" cy="788.3" r="4.0" fill="#fff" stroke="#5a5a5a" stroke-width="1.2"/>
<path d="M278.5 772.8 L299 772.8 C306 773.2 306.4 781 313.1 783.2 M278.5 776.9 L298 776.9 C303.6 777.4 304 785 312.6 786.4" stroke="#5a5a5a" stroke-width="1.15" fill="none" />
<path d="M278.5 803.1 L301 803.1 C307 802.6 306 793.6 313.1 792.6 M278.5 799.1 L300 799.1 C304.6 798.6 303.6 790.6 309.4 789.2" stroke="#5a5a5a" stroke-width="1.15" fill="none" />
<path d="M339.6 781.9 L313.1 781.9 L313.1 794.4 L337 794.4" stroke="#5a5a5a" stroke-width="1.2" fill="#fff" />
<path d="M340.4 781.9 C338.4 783.4 339.6 785.6 339.8 787.6 C339.8 790.6 338.6 793 337 794.4" stroke="#5a5a5a" stroke-width="1.1" fill="none" />
<path d="M203.9 811 L213 811 L213 809.5 L219 813.2 L213 816.9 L213 815.4 L203.9 815.4 Z" stroke="#666" stroke-width="1.2" fill="#f4f4f4" />
<text x="302.3" y="814.9" font-family="'Liberation Mono', monospace" font-size="6.7" fill="#858585" textLength="40" lengthAdjust="spacingAndGlyphs">Connection</text>
</g>
<g id="table" font-family="'Liberation Sans', sans-serif" fill="#1e1e1e">
<rect x="378.3" y="780.3" width="234.6" height="45.3" fill="#fff" stroke="#5f5f5f" stroke-width="1.0"/>
<text x="384.2" y="792.4" font-size="7.5" font-weight="bold" textLength="62.6" lengthAdjust="spacingAndGlyphs">Fitting wire colour</text>
<text x="516.6" y="790.6" font-size="7.5" font-weight="bold" textLength="61.2" lengthAdjust="spacingAndGlyphs">Household circui t</text>
<text x="384.2" y="804.8" font-size="6.8" textLength="13.8" lengthAdjust="spacingAndGlyphs">Blue</text>
<text x="458.8" y="804.8" font-size="6.8" textLength="26" lengthAdjust="spacingAndGlyphs">Connect</text>
<text x="492.6" y="804.8" font-size="6.8" textLength="5.4" lengthAdjust="spacingAndGlyphs">to</text>
<text x="513.4" y="804.8" font-size="6.8" textLength="72.4" lengthAdjust="spacingAndGlyphs">(Neutral- Blue or Black)</text>
<text x="384.2" y="819.4" font-size="6.8" textLength="19.8" lengthAdjust="spacingAndGlyphs">Brown</text>
<text x="458.8" y="819.4" font-size="6.8" textLength="26" lengthAdjust="spacingAndGlyphs">Connect</text>
<text x="492.6" y="819.4" font-size="6.8" textLength="5.4" lengthAdjust="spacingAndGlyphs">to</text>
<text x="513.0" y="819.4" font-size="6.8" textLength="91" lengthAdjust="spacingAndGlyphs">(Live- Red or Brown or white)</text>
</g>
</svg>
</body>
</html>
